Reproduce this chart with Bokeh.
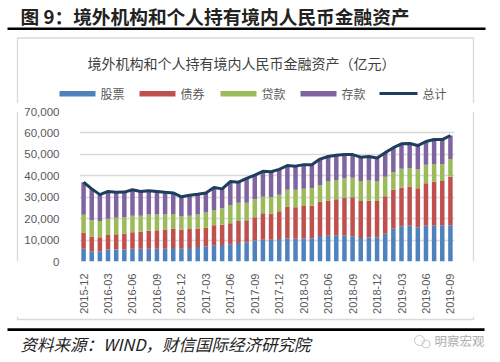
import math
import numpy as np
from bokeh.plotting import figure
from bokeh.layouts import column, row
from bokeh.models import ColumnDataSource, Range1d, FixedTicker, NumeralTickFormatter
from bokeh.core.properties import value
from bokeh.embed import file_html
from bokeh.resources import INLINE

# ---------------- data (亿元) ----------------
months = ["2015-12",
          "2016-01", "2016-02", "2016-03", "2016-04", "2016-05", "2016-06",
          "2016-07", "2016-08", "2016-09", "2016-10", "2016-11", "2016-12",
          "2017-01", "2017-02", "2017-03", "2017-04", "2017-05", "2017-06",
          "2017-07", "2017-08", "2017-09", "2017-10", "2017-11", "2017-12",
          "2018-01", "2018-02", "2018-03", "2018-04", "2018-05", "2018-06",
          "2018-07", "2018-08", "2018-09", "2018-10", "2018-11", "2018-12",
          "2019-01", "2019-02", "2019-03", "2019-04", "2019-05", "2019-06",
          "2019-07", "2019-08", "2019-09"]

stocks = [6000, 4800, 4800, 5600, 5600, 5600, 5900, 5900, 6000, 5900, 6000, 6300,
          5900, 6300, 6800, 7100, 7400, 7700, 8000, 8600, 9000, 9800, 10200, 10100,
          10500, 10800, 10600, 10700, 10800, 11900, 12000, 12200, 12000, 11800, 11000, 11200,
          11300, 12900, 15500, 16500, 16700, 16000, 16700, 16800, 16900, 16900]
bonds = [7500, 6800, 6500, 6800, 7100, 7300, 7700, 8000, 8300, 8700, 8900, 9100,
         9000, 8900, 8600, 8700, 9500, 9500, 9900, 10300, 10200, 10900, 12300, 12200,
         12900, 14700, 14700, 15200, 15200, 16000, 16500, 16800, 17700, 18200, 17200, 17200,
         16900, 17600, 18000, 18000, 18300, 18200, 19800, 20500, 20700, 22600]
loans = [8300, 7600, 7600, 7500, 7700, 7800, 7700, 7500, 7600, 7300, 7000, 6800,
         6100, 6200, 6500, 7100, 7100, 7700, 8500, 8500, 8200, 8300, 7700, 7800,
         7800, 8000, 8200, 8000, 8200, 7800, 8800, 9000, 9100, 9100, 9400, 9400,
         9400, 9000, 8300, 8800, 8600, 8800, 8600, 8200, 7800, 8300]
deposits = [15200, 14700, 12300, 12800, 11900, 11700, 12200, 11300, 11100, 10800, 10400, 9800,
            9200, 9500, 9500, 9100, 10500, 9000, 10900, 9600, 11400, 11300, 11900, 11800,
            11800, 11300, 11000, 11300, 11000, 12100, 11700, 11600, 11100, 10800, 11100, 11200,
            10700, 11300, 11300, 11600, 11500, 11100, 10900, 11400, 11500, 11000]

series_names = ["股票", "债券", "贷款", "存款"]
line_name = "总计"
tick_step = 3
y_ticks = [0, 10000, 20000, 30000, 40000, 50000, 60000, 70000]

fig_title = "图 9：境外机构和个人持有境内人民币金融资产"
chart_title = "境外机构和个人持有境内人民币金融资产（亿元）"
source_note = "资料来源：WIND，财信国际经济研究院"
watermark = "明察宏观"

colors = ["#4f81bd", "#c0504d", "#9bbb59", "#8064a2"]
line_color = "#1f3d5e"
box_color = "#d9d9d9"
CJK = "Noto Sans CJK SC"
LAT = "Liberation Sans"

idx = list(range(len(months)))
total = (np.array(stocks) + np.array(bonds) + np.array(loans) + np.array(deposits)).tolist()


def blank(x0, x1, y0, y1):
    """figure whose frame fills the canvas; coordinates = page pixels (y downward)."""
    f = figure(width=int(round(x1 - x0)), height=int(round(y1 - y0)),
               x_range=Range1d(x0, x1), y_range=Range1d(y1, y0),
               x_axis_type=None, y_axis_type=None, output_backend="svg",
               toolbar_location=None, min_border=0)
    f.outline_line_color = None
    f.grid.visible = False
    f.background_fill_color = "white"
    f.border_fill_color = "white"
    return f


# ---------------- top strip: page y 0..103 ----------------
top = blank(0, 500, 0, 103)
top.text(x=[20], y=[14.5], text=[fig_title], text_font=value(CJK), text_font_style="bold",
         text_font_size="18.7px", text_color="#222222", text_baseline="middle", text_align="left")
top.quad(left=[7], right=[485], top=[26.9], bottom=[29.6], fill_color="black", line_color=None)
top.multi_line(xs=[[17, 17, 473, 473]], ys=[[103, 37.5, 37.5, 103]],
               line_color=box_color, line_width=1.3)
top.text(x=[241], y=[62], text=[chart_title], text_font=value(CJK), text_font_size="14px",
         text_color="#404040", text_baseline="middle", text_align="center")

# legend (drawn from the series names and colours)
leg_x = [59, 139, 220, 300]
for xs, name, c in zip(leg_x, series_names, colors):
    top.quad(left=[xs], right=[xs + 36], top=[90.5], bottom=[96], fill_color=c, line_color=None)
    top.text(x=[xs + 41], y=[93], text=[name], text_font=value(CJK), text_font_size="12px",
             text_color="#595959", text_baseline="middle", text_align="left")
top.line(x=[379, 417], y=[93, 93], line_color=line_color, line_width=3)
top.text(x=[422], y=[93], text=[line_name], text_font=value(CJK), text_font_size="12px",
         text_color="#595959", text_baseline="middle", text_align="left")

# ---------------- chart: page x 20..460, y 103..316 ----------------
src = ColumnDataSource(dict(x=idx, stocks=stocks, bonds=bonds, loans=loans,
                            deposits=deposits, total=total))

p = figure(width=440, height=213, output_backend="svg", toolbar_location=None,
           x_range=Range1d(-0.5, len(months) - 0.5), y_range=Range1d(0, 70000),
           min_border_left=59, min_border_right=6, min_border_top=8, min_border_bottom=50)
p.outline_line_color = None
p.background_fill_color = "white"
p.border_fill_color = "white"

p.vbar_stack(["stocks", "bonds", "loans", "deposits"], x="x", width=0.55,
             color=colors, line_color=None, source=src)
p.line("x", "total", source=src, line_color=line_color, line_width=3, line_join="round")

p.yaxis.ticker = FixedTicker(ticks=y_ticks)
p.yaxis.formatter = NumeralTickFormatter(format="0,0")
p.yaxis.axis_line_color = None
p.yaxis.major_tick_line_color = None
p.yaxis.minor_tick_line_color = None
p.yaxis.major_label_text_font = LAT
p.yaxis.major_label_text_font_size = "11.5px"
p.yaxis.major_label_text_color = "#595959"
p.yaxis.major_label_standoff = 14

xt = idx[::tick_step]
p.xaxis.ticker = FixedTicker(ticks=xt)
p.xaxis.major_label_overrides = {i: months[i] for i in xt}
p.xaxis.major_label_orientation = math.pi / 2
p.xaxis.axis_line_color = None
p.xaxis.major_tick_line_color = None
p.xaxis.minor_tick_line_color = None
p.xaxis.major_label_text_font = LAT
p.xaxis.major_label_text_font_size = "11px"
p.xaxis.major_label_text_color = "#595959"
p.xaxis.major_label_standoff = 6

p.xgrid.grid_line_color = None
p.ygrid.grid_line_color = box_color
p.ygrid.grid_line_width = 1.3

left_strip = blank(0, 20, 103, 316)
left_strip.line(x=[17, 17], y=[103, 316], line_color=box_color, line_width=1.3)
right_strip = blank(460, 500, 103, 316)
right_strip.line(x=[473, 473], y=[103, 316], line_color=box_color, line_width=1.3)

# ---------------- bottom strip: page y 316..362 ----------------
bot = blank(0, 500, 316, 362)
bot.multi_line(xs=[[17, 17, 473, 473]], ys=[[316, 319, 319, 316]],
               line_color=box_color, line_width=1.3)
bot.quad(left=[7], right=[484], top=[327.8], bottom=[330.5], fill_color="black", line_color=None)
bot.text(x=[20], y=[343], text=[source_note], text_font=value(CJK), text_font_style="italic",
         text_font_size="16.5px", text_color="#222222", text_baseline="middle", text_align="left")
bot.scatter(x=[419], y=[340], marker="circle", size=10, fill_color=None,
            line_color="#c8c8c8", line_width=1)
bot.scatter(x=[425.5], y=[343.5], marker="circle", size=8, fill_color=None,
            line_color="#c8c8c8", line_width=1)
bot.text(x=[484], y=[340], text=[watermark], text_font=value(CJK), text_font_size="12.5px",
         text_color="#adadad", text_baseline="middle", text_align="right")

layout = column(top, row(left_strip, p, right_strip, spacing=0), bot, spacing=0)

open("out.html", "w").write(file_html(layout, INLINE))
